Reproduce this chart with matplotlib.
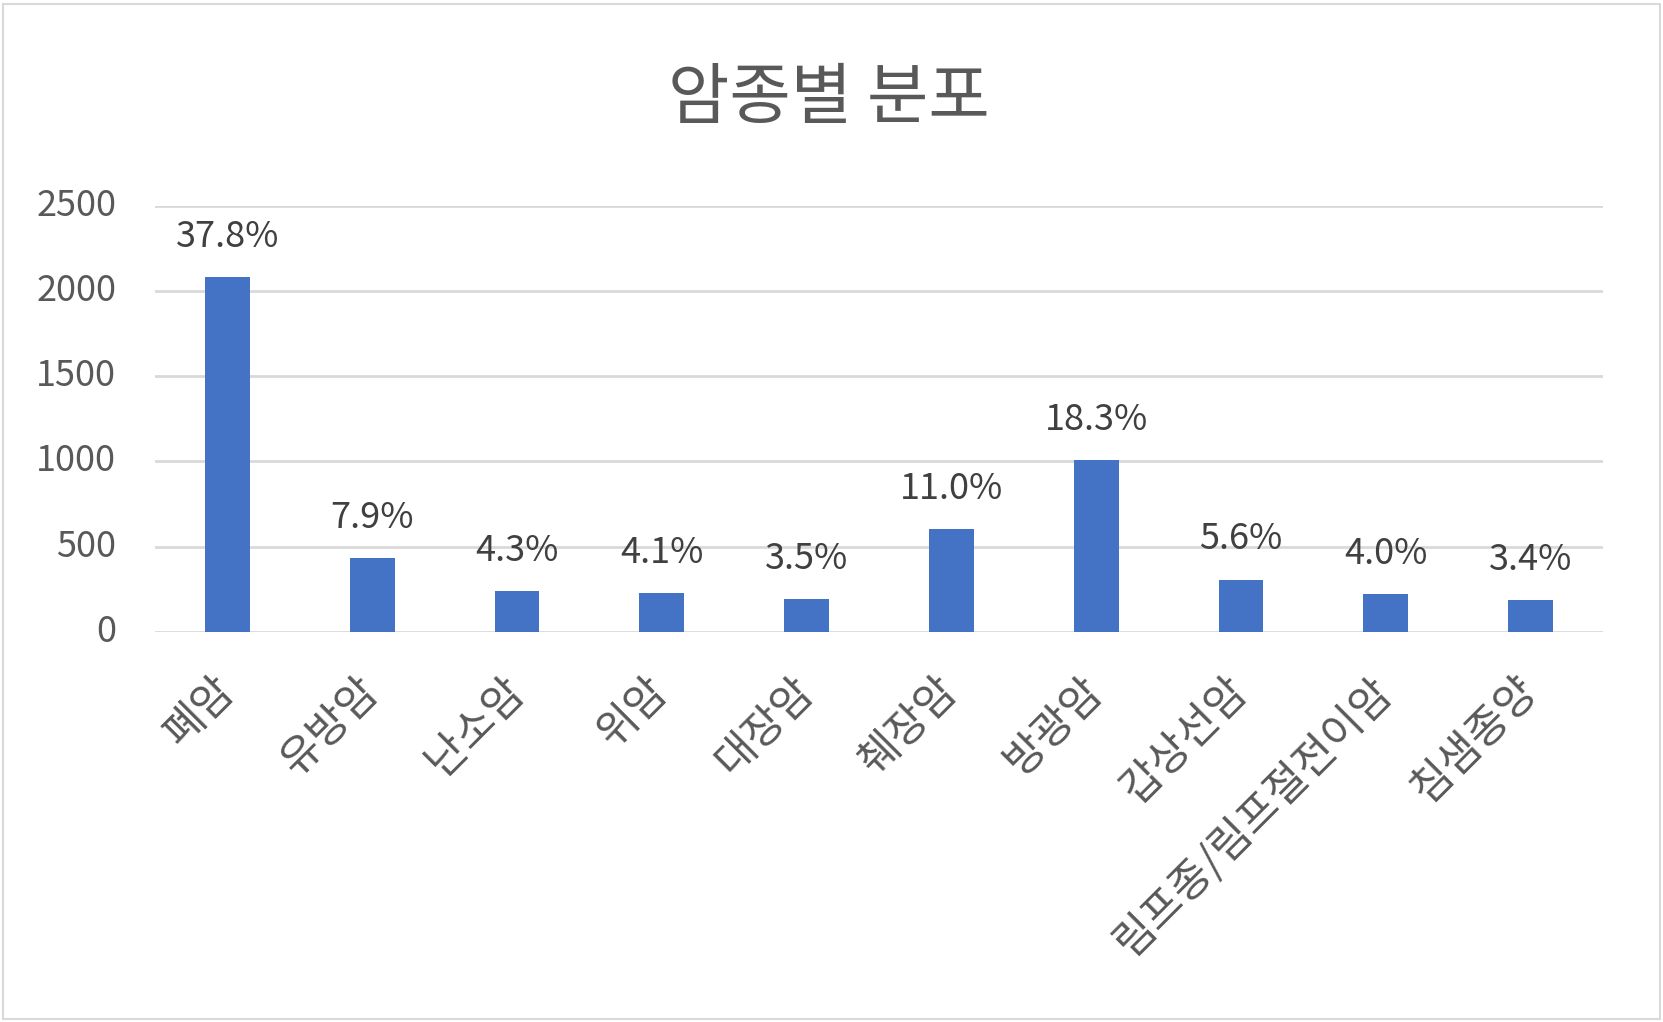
import matplotlib
matplotlib.use("Agg")
import matplotlib.pyplot as plt
from matplotlib.patches import Rectangle

plt.rcParams['font.family'] = ['Noto Sans CJK KR', 'DejaVu Sans']

categories = ['폐암', '유방암', '난소암', '위암', '대장암', '췌장암', '방광암', '갑상선암', '림프종/림프절전이암', '침샘종양']
values = [2083, 430, 236, 225, 192, 602, 1006, 306, 219, 186]
pct_labels = ['37.8%', '7.9%', '4.3%', '4.1%', '3.5%', '11.0%', '18.3%', '5.6%', '4.0%', '3.4%']
yticks = [0, 500, 1000, 1500, 2000, 2500]
title = '암종별 분포'

fig = plt.figure(figsize=(16.63, 10.22), dpi=100)
fig.patches.append(Rectangle((0.002, 0.003), 0.996, 0.993, transform=fig.transFigure,
                             fill=False, edgecolor='#D9D9D9', linewidth=1.5))
ax = fig.add_axes([0.0932, 0.3819, 0.8707, 0.4168])

x = list(range(len(categories)))
ax.bar(x, values, width=0.31, color='#4472C4', zorder=3)
ax.set_xlim(-0.5, len(categories) - 0.5)
ax.set_ylim(0, 2500)
ax.set_yticks(yticks)
ax.set_yticklabels([str(v) for v in yticks])
ax.grid(axis='y', color='#D9D9D9', linewidth=2, zorder=0)
ax.set_axisbelow(True)
for s in ax.spines.values():
    s.set_visible(False)
ax.tick_params(axis='y', length=0, pad=28, labelsize=26, labelcolor='#595959')
for lbl in ax.get_yticklabels():
    lbl.set_va('center')
ax.tick_params(axis='x', length=0, pad=38, labelsize=31, labelcolor='#595959')
ax.set_xticks(x)
ax.set_xticklabels(categories, rotation=45, ha='right', va='center', rotation_mode='anchor')

for xi, v, lab in zip(x, values, pct_labels):
    ax.annotate(lab, (xi, v), xytext=(0, 29), textcoords='offset points',
                ha='center', va='center', fontsize=26, color='#404040')

fig.text(0.4985, 0.903, title, ha='center', va='center', fontsize=48, color='#595959')

fig.savefig('out.png', dpi=100)
